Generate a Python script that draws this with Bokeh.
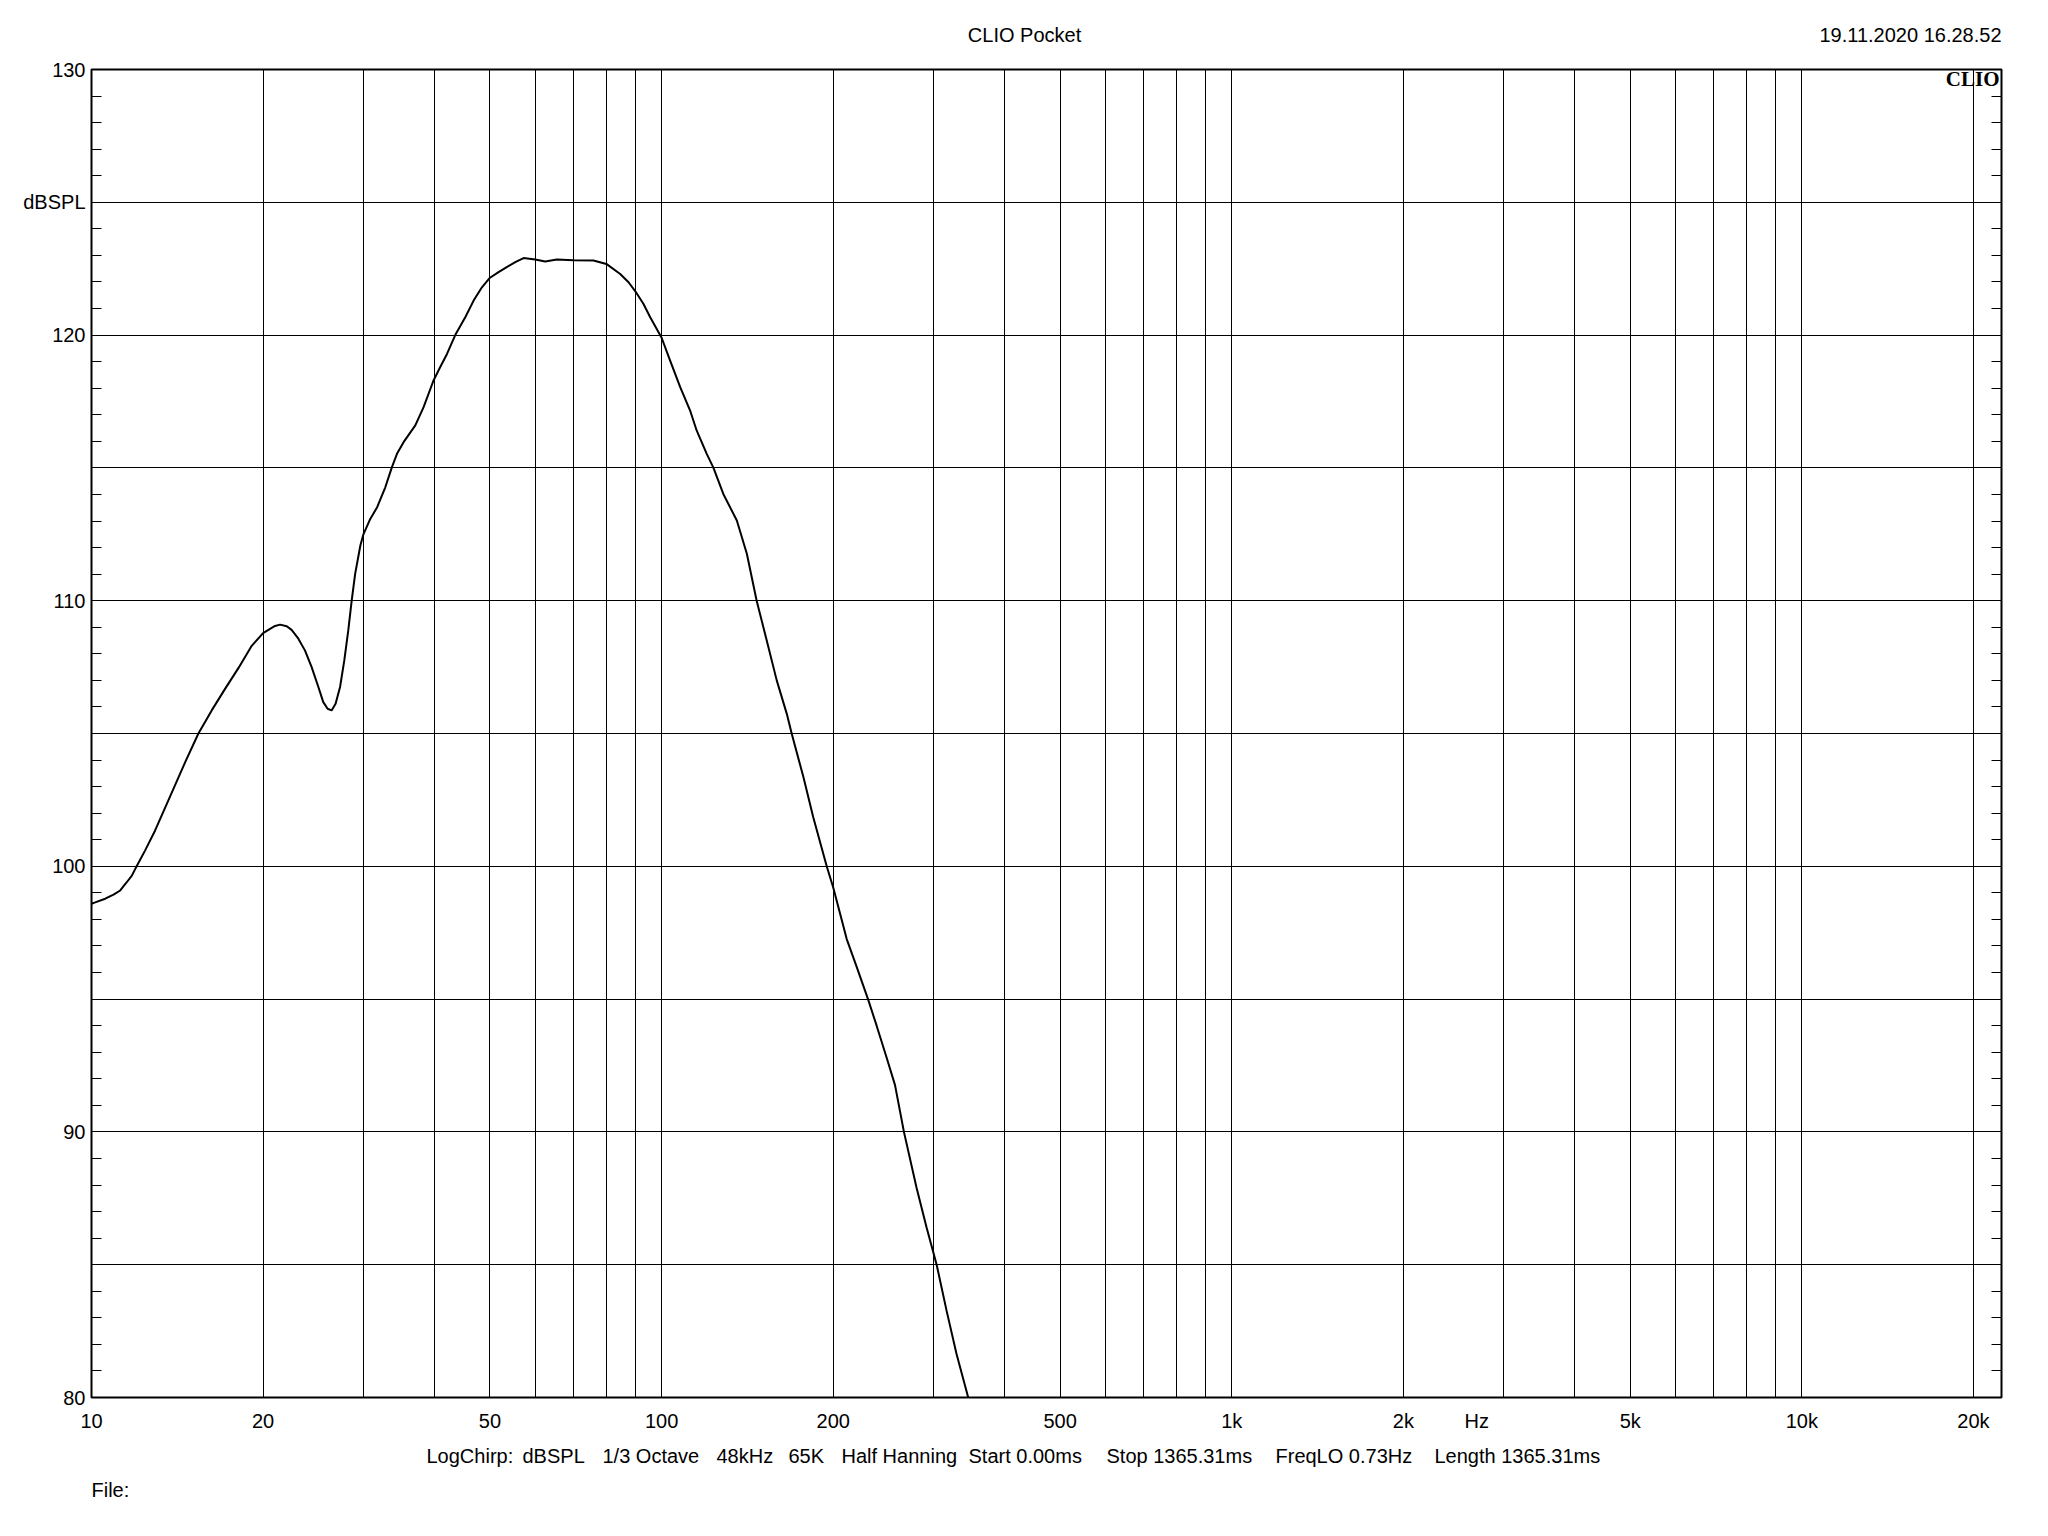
from math import log10
from bokeh.plotting import figure
from bokeh.layouts import column
from bokeh.models import FixedTicker, LinearAxis, Label, Range1d
from bokeh.embed import file_html
from bokeh.resources import INLINE

# ---------------- data ----------------
freq_hz = [10.0, 10.15, 10.57, 10.93, 11.23, 11.53, 11.77, 12.0, 12.42, 12.93, 13.64, 14.6, 15.4,
           16.25, 17.15, 18.11, 19.1, 20.0, 20.57, 20.99, 21.42, 22.0, 22.44, 23.06, 23.69,
           24.33, 25.0, 25.5, 25.95, 26.37, 26.8, 27.29, 27.76, 28.21, 28.6, 29.0, 29.62, 30.0,
           30.83, 31.7, 32.76, 33.65, 34.34, 35.27, 36.98, 38.24, 39.8, 40.9, 42.03, 43.45,
           45.25, 46.8, 48.4, 50.0, 51.76, 53.5, 55.38, 57.26, 60.0, 62.5, 65.5, 70.0, 75.95,
           80.0, 84.6, 87.5, 90.0, 92.9, 95.5, 100.0, 103.5, 107.8, 112.2, 115.2, 120.0, 123.3,
           128.3, 135.5, 141.1, 146.8, 152.9, 159.2, 165.8, 169.1, 177.3, 184.5, 194.8, 200.0,
           206.9, 211.2, 219.8, 230.4, 238.4, 248.1, 256.7, 266.1, 280.1, 291.6, 303.7, 316.1,
           329.1, 345.0, 355.0]
spl_db = [98.59, 98.64, 98.78, 98.93, 99.09, 99.40, 99.65, 100.0, 100.6, 101.35, 102.48, 103.92,
          105.0, 105.87, 106.68, 107.47, 108.3, 108.78, 108.94, 109.05, 109.1, 109.04, 108.9,
          108.57, 108.12, 107.5, 106.75, 106.18, 105.93, 105.87, 106.12, 106.75, 107.75, 108.88,
          110.0, 111.0, 112.08, 112.51, 113.08, 113.52, 114.27, 115.03, 115.53, 115.97, 116.6,
          117.29, 118.29, 118.8, 119.29, 120.0, 120.67, 121.3, 121.8, 122.16, 122.37, 122.56,
          122.75, 122.9, 122.85, 122.77, 122.85, 122.82, 122.81, 122.68, 122.3, 121.99, 121.64,
          121.18, 120.67, 119.9, 119.04, 118.04, 117.16, 116.41, 115.53, 115.0, 114.02, 113.02,
          111.77, 110.0, 108.5, 107.0, 105.74, 105.0, 103.36, 101.85, 100.0, 99.2, 98.0, 97.26,
          96.22, 94.97, 93.99, 92.8, 91.76, 90.0, 87.89, 86.4, 85.0, 83.27, 81.64, 80.0, 78.8]

x_tick_values = [10, 20, 50, 100, 200, 500, 1000, 2000, 2690, 5000, 10000, 20000]
x_tick_labels = ["10", "20", "50", "100", "200", "500", "1k", "2k", "Hz", "5k", "10k", "20k"]
y_tick_values = [80, 90, 100, 110, 120, 125, 130]
y_tick_labels = ["80", "90", "100", "110", "120", "dBSPL", "130"]

title_text = "CLIO Pocket"
date_text = "19.11.2020 16.28.52"
brand_text = "CLIO"
footer_items = ["LogChirp:", "dBSPL", "1/3 Octave", "48kHz", "65K", "Half Hanning",
                "Start 0.00ms", "Stop 1365.31ms", "FreqLO 0.73Hz", "Length 1365.31ms"]
file_text = "File:"

# ---------------- layout ----------------
X0, X1 = 10, 22400
Y0, Y1 = 80, 130
W = 2030
HEAD_H, FOOT_H = 45, 78
FL, FT, FW, FH = 91, 24, 1910, 1328
MAIN_H = FT + FH + 45
FONT = "Liberation Sans"
FS = "20px"

p = figure(width=W, height=MAIN_H, x_axis_type="log",
           x_range=Range1d(X0, X1), y_range=Range1d(Y0, Y1),
           output_backend="svg", toolbar_location=None,
           min_border_left=FL, min_border_top=FT,
           min_border_right=W - FL - FW, min_border_bottom=MAIN_H - FT - FH)
p.background_fill_color = "white"
p.border_fill_color = "white"
p.outline_line_color = "black"
p.outline_line_width = 2

grid_x = [m * 10 ** e for e in range(1, 5) for m in range(1, 10) if X0 < m * 10 ** e < X1] + [20000]
p.xgrid.ticker = FixedTicker(ticks=grid_x)
p.ygrid.ticker = FixedTicker(ticks=list(range(80, 131, 5)))
for g in (p.xgrid[0], p.ygrid[0]):
    g.grid_line_color = "black"
    g.grid_line_width = 1
    g.grid_line_alpha = 1.0

minor_y = [v for v in range(81, 130) if v % 5]

xa = p.xaxis[0]
xa.ticker = FixedTicker(ticks=x_tick_values, minor_ticks=[])
xa.major_label_overrides = dict(zip(x_tick_values, x_tick_labels))
xa.axis_line_color = None
xa.major_tick_in = 0
xa.major_tick_out = 0
xa.minor_tick_line_color = None
xa.major_label_standoff = 12
xa.major_label_text_font = FONT
xa.major_label_text_font_size = FS
xa.major_label_text_color = "black"

ya = p.yaxis[0]
ya.ticker = FixedTicker(ticks=y_tick_values, minor_ticks=minor_y)
ya.major_label_overrides = dict(zip(y_tick_values, y_tick_labels))
ya.axis_line_color = None
ya.major_tick_in = 0
ya.major_tick_out = 0
ya.minor_tick_in = 10
ya.minor_tick_out = 0
ya.minor_tick_line_color = "black"
ya.major_label_standoff = 6
ya.major_label_text_font = FONT
ya.major_label_text_font_size = FS
ya.major_label_text_color = "black"

ra = LinearAxis(ticker=FixedTicker(ticks=[], minor_ticks=minor_y),
                axis_line_color=None, major_tick_in=0, major_tick_out=0,
                minor_tick_in=10, minor_tick_out=0, minor_tick_line_color="black",
                major_label_text_font_size="0px")
p.add_layout(ra, "right")

p.line(freq_hz, spl_db, line_color="black", line_width=2)


def dx(px):
    return 10 ** (log10(X0) + (px - FL) / FW * (log10(X1) - log10(X0)))


def dy(py):
    return Y1 - (py - FT) / FH * (Y1 - Y0)


p.add_layout(Label(x=dx(1999), y=dy(21), text=brand_text, text_align="right", text_baseline="top",
                   text_font="Liberation Serif", text_font_size="21px", text_font_style="bold",
                   text_color="black"))


def text_strip(height):
    # the column aligns this strip's frame with the main frame (page x FL .. FL+FW)
    f = figure(width=W, height=height, x_range=Range1d(FL, FL + FW), y_range=Range1d(height, 0),
               output_backend="svg", toolbar_location=None, min_border=0,
               x_axis_location=None, y_axis_location=None)
    f.grid.visible = False
    f.outline_line_color = None
    f.background_fill_color = "white"
    f.border_fill_color = "white"
    return f


def put(f, x, y, text, align="left"):
    f.add_layout(Label(x=x, y=y, text=text, text_align=align, text_baseline="middle",
                       text_font=FONT, text_font_size=FS, text_color="black"))


head = text_strip(HEAD_H)
put(head, 1024, 34, title_text, "center")
put(head, 2001, 34, date_text, "right")

foot = text_strip(FOOT_H)
footer_x = [426, 522, 602, 716, 788, 841, 968, 1106, 1275, 1434]
for fx, t in zip(footer_x, footer_items):
    put(foot, fx, 13, t)
put(foot, 91, 47, file_text)

layout = column(head, p, foot, spacing=0)
open("out.html", "w").write(file_html(layout, INLINE))
